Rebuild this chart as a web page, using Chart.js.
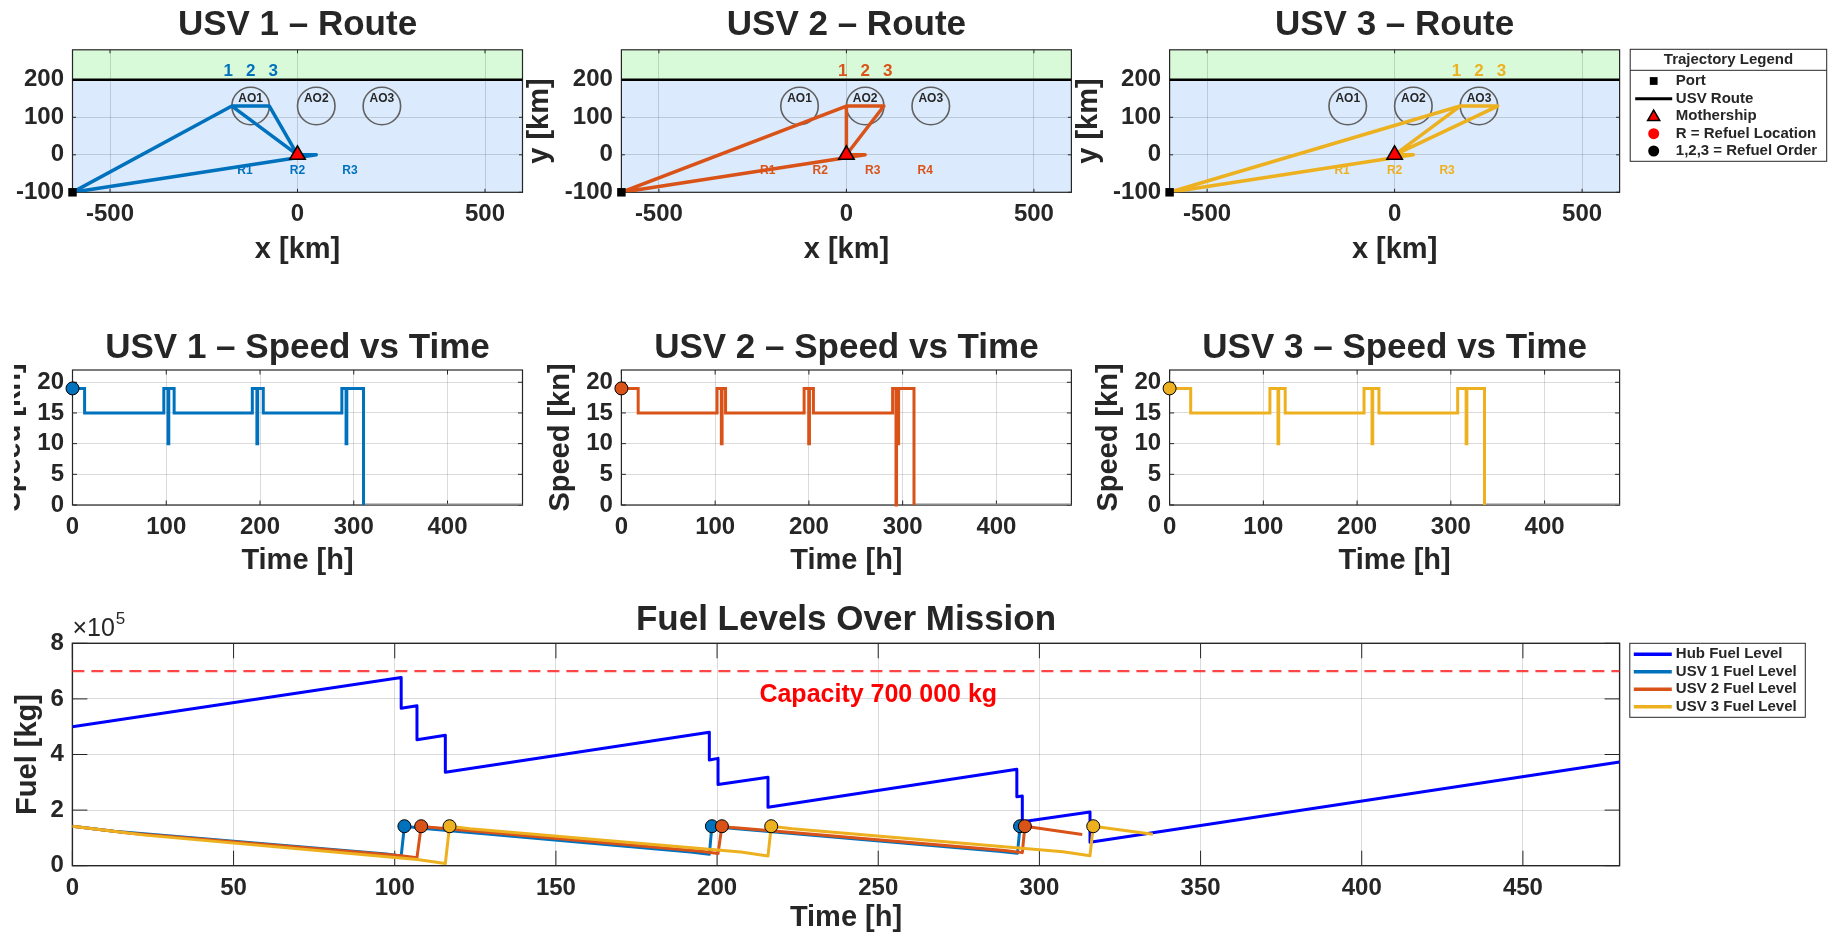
<!DOCTYPE html>
<html>
<head>
<meta charset="utf-8">
<title>USV mission overview</title>
<script src="https://cdn.jsdelivr.net/npm/chart.js@4.4.1/dist/chart.umd.min.js"></script>
<style>
  html, body { margin: 0; padding: 0; background: #fff; }
  body { width: 1837px; height: 942px; position: relative; overflow: hidden; }
  canvas { position: absolute; }
</style>
</head>
<body>
<canvas id="route1"></canvas>
<canvas id="route2"></canvas>
<canvas id="route3"></canvas>
<canvas id="speed1"></canvas>
<canvas id="speed2"></canvas>
<canvas id="speed3"></canvas>
<canvas id="fuel"></canvas>
<script>
// ---------- mission data ----------
const usvNames = ['USV 1', 'USV 2', 'USV 3'];
const usvColors = ['#0072BD', '#D95319', '#EDB120'];

// route plots (km)
const routeXRange = [-600, 600];
const routeYRange = [-100, 280];
const routeXTicks = [-500, 0, 500];
const routeYTicks = [-100, 0, 100, 200];
const shoreY = 200;
const port = [-600, -100];
const mothership = [0, 0];
const aoNames = ['AO1', 'AO2', 'AO3'];
const aoX = [-125, 50, 225];
const aoY = 130;
const aoRadius = 50;
const aoLabelY = 150;

const route1X = [-600, -175, -75, 0, -175, -75, 0, 50, -600];
const route1Y = [-100, 130, 130, 0, 130, 130, 0, 0, -100];
const route2X = [-600, 0, 100, 0, 0, 100, 0, 50, -600];
const route2Y = [-100, 130, 130, 0, 130, 130, 0, 0, -100];
const route3X = [-600, 175, 275, 0, 175, 275, 0, 50, -600];
const route3Y = [-100, 130, 130, 0, 130, 130, 0, 0, -100];

const refuelNames1 = ['R1', 'R2', 'R3'];
const refuelX1 = [-140, 0, 140];
const refuelNames2 = ['R1', 'R2', 'R3', 'R4'];
const refuelX2 = [-210, -70, 70, 210];
const refuelNames3 = ['R1', 'R2', 'R3'];
const refuelX3 = [-140, 0, 140];
const refuelLabelY = -42;

const orderNames = ['1', '2', '3'];
const orderX1 = [-185, -125, -65];
const orderX2 = [-10, 50, 110];
const orderX3 = [165, 225, 285];
const orderLabelY = 222;

const legendText = ['Port', 'USV Route', 'Mothership', 'R = Refuel Location', '1,2,3 = Refuel Order'];

// speed profiles: speed (kn) holds from each time (h) until the next one
const timeMax = 480;
const timeTicks = [0, 100, 200, 300, 400];
const speedTicks = [0, 5, 10, 15, 20];
const speedT1 = [0, 12.9, 97.4, 101.9, 102.7, 108.4, 191.8, 196.7, 197.5, 203.5, 287.3, 291.8, 292.6, 310.4];
const speedV1 = [19, 15, 19, 10, 19, 15, 19, 10, 19, 15, 19, 10, 19, 0];
const speedT2 = [0, 17.9, 102, 106.6, 107.4, 111.1, 194.9, 199.8, 200.6, 204.8, 289.3, 292.9, 293.5, 295.1, 295.7, 312.1];
const speedV2 = [19, 15, 19, 10, 19, 15, 19, 10, 19, 15, 19, 0, 19, 10, 19, 0];
const speedT3 = [0, 22.5, 107, 115.6, 116.4, 123.3, 207.4, 215.9, 216.7, 223.3, 307.3, 316.3, 317.1, 335.9];
const speedV3 = [19, 15, 19, 10, 19, 15, 19, 10, 19, 15, 19, 10, 19, 0];

// fuel levels (kg)
const fuelTimeTicks = [0, 50, 100, 150, 200, 250, 300, 350, 400, 450];
const fuelTicks = [0, 200000, 400000, 600000, 800000];
const capacityKg = 700000;
const capacityLabelAt = [250, 615000];
const hubT = [0, 102, 102, 106.9, 106.9, 115.7, 115.7, 197.6, 197.6, 200.3, 200.3, 215.8, 215.8, 293, 293, 294.7, 294.7, 315.7, 315.7, 480];
const hubFuel = [500000, 677000, 566000, 575000, 453000, 469000, 336000, 480000, 380000, 386000, 292000, 318000, 210000, 347000, 248000, 251000, 158000, 193000, 84000, 373000];
const fuelT1 = [0, 12.9, 97.4, 102, 103, 108.4, 191.8, 197.6, 198.4, 203.5, 287.3, 293.2, 294];
const fuelKg1 = [142000, 124000, 42000, 35000, 142000, 135000, 49000, 41000, 142000, 136000, 52000, 45000, 142000];
const fuelT2 = [0, 17.9, 102, 106.9, 108.2, 111.1, 194.9, 200.3, 201.5, 204.8, 289.3, 294.7, 295.5, 313.3];
const fuelKg2 = [142000, 117000, 36000, 29000, 142000, 138000, 52000, 44000, 142000, 137000, 55000, 47000, 142000, 112000];
const fuelT3 = [0, 22.5, 107, 115.7, 117, 123.3, 207.4, 215.8, 216.8, 223.3, 307.3, 315.7, 316.7, 335.2];
const fuelKg3 = [142000, 110000, 22000, 8000, 142000, 133000, 49000, 35000, 142000, 133000, 50000, 36000, 142000, 113000];
const refuelT1 = [103, 198.4, 294];
const refuelT2 = [108.2, 201.5, 295.5];
const refuelT3 = [117, 216.8, 316.7];

const routeX = [route1X, route2X, route3X];
const routeY = [route1Y, route2Y, route3Y];
const refuelNames = [refuelNames1, refuelNames2, refuelNames3];
const refuelX = [refuelX1, refuelX2, refuelX3];
const orderX = [orderX1, orderX2, orderX3];
const speedT = [speedT1, speedT2, speedT3];
const speedV = [speedV1, speedV2, speedV3];
const fuelT = [fuelT1, fuelT2, fuelT3];
const fuelKg = [fuelKg1, fuelKg2, fuelKg3];
const refuelT = [refuelT1, refuelT2, refuelT3];

// ---------- styling ----------
const INK = '#262626';
const GRID = 'rgba(0,0,0,0.14)';
const FONT = '"Liberation Sans", Arial, Helvetica, sans-serif';
const TITLE = 35, TICK = 24, LABEL = 29;
const landColor = 'rgb(217,250,217)';
const seaColor = 'rgb(219,234,252)';

Chart.defaults.font.family = FONT;
Chart.defaults.font.weight = 'bold';
Chart.defaults.color = INK;

// axes box with inward tick marks, drawn under the data
Chart.register({
  id: 'frame',
  defaults: { tick: 4, width: 1.2 },
  beforeDatasetsDraw(chart, args, opts) {
    const { ctx, chartArea: a, scales: { x, y } } = chart;
    const L = opts.tick;
    ctx.save();
    ctx.strokeStyle = INK;
    ctx.lineWidth = 1;
    ctx.beginPath();
    x.ticks.forEach(t => {
      const px = x.getPixelForValue(t.value);
      ctx.moveTo(px, a.bottom); ctx.lineTo(px, a.bottom - L);
      ctx.moveTo(px, a.top); ctx.lineTo(px, a.top + L);
    });
    y.ticks.forEach(t => {
      const py = y.getPixelForValue(t.value);
      ctx.moveTo(a.left, py); ctx.lineTo(a.left + L, py);
      ctx.moveTo(a.right, py); ctx.lineTo(a.right - L, py);
    });
    ctx.stroke();
    ctx.lineWidth = opts.width;
    ctx.strokeRect(a.left, a.top, a.right - a.left, a.bottom - a.top);
    ctx.restore();
  }
});

// place a canvas and work out paddings so the plot area lands on `area`
function panel(id, box, area, titleY, xLabelY, yLabelX) {
  const canvas = document.getElementById(id);
  canvas.width = box.w; canvas.height = box.h;
  canvas.style.left = box.l + 'px'; canvas.style.top = box.t + 'px';
  canvas.style.width = box.w + 'px'; canvas.style.height = box.h + 'px';
  const tlh = TITLE * 1.2, llh = LABEL * 1.2;
  const xH = xLabelY - area.B + llh / 2;
  return {
    canvas,
    layout: { padding: { left: 0, top: 0, right: box.l + box.w - area.R, bottom: box.t + box.h - area.B - xH } },
    titlePad: { top: titleY - box.t - tlh / 2, bottom: area.T - titleY - tlh / 2 },
    xH,
    yW: area.L - box.l,
    yTitlePad: yLabelX - box.l - llh / 2
  };
}

function axis(p, horiz, range, values, label, fmt) {
  return {
    type: 'linear', min: range[0], max: range[1],
    afterBuildTicks: s => { s.ticks = values.map(v => ({ value: v })); },
    afterFit: s => { if (horiz) s.height = p.xH; else s.width = p.yW; },
    grid: { color: GRID, lineWidth: 1, drawTicks: false },
    border: { display: false },
    ticks: { padding: horiz ? 8 : 8.5, font: { size: TICK, weight: 'bold' }, color: INK,
             maxRotation: 0, autoSkip: false, callback: fmt || (v => String(v)) },
    title: { display: true, text: label, color: INK, font: { size: LABEL, weight: 'bold' },
             padding: horiz ? 0 : { top: p.yTitlePad, bottom: 0 } }
  };
}

function base(p, title, scales, frame) {
  return {
    responsive: false, animation: false, events: [],
    layout: p.layout,
    scales,
    plugins: {
      legend: { display: false },
      tooltip: { enabled: false },
      title: { display: true, text: title, fullSize: false, color: INK,
               font: { size: TITLE, weight: 'bold' }, padding: p.titlePad },
      frame
    }
  };
}

const pts = (xs, ys) => xs.map((x, i) => ({ x, y: ys[i] }));
const colL = [72.5, 621.4, 1169.6];
const plotW = 450;
const canvasL = [14, 524, 1072];
const routeCanvasW = [530, 570, 765];
const speedCanvasW = [530, 570, 600];

function symbol(ctx, style, x, y, r, fill, stroke, bw) {
  ctx.fillStyle = fill;
  ctx.strokeStyle = stroke;
  ctx.lineWidth = bw;
  Chart.helpers.drawPoint(ctx, { pointStyle: style, radius: r, rotation: 0, borderWidth: bw }, x, y);
}

// ---------- route maps ----------
function routeChart(k) {
  const area = { L: colL[k], R: colL[k] + plotW, T: 49.8, B: 192.3 };
  const p = panel('route' + (k + 1), { l: canvasL[k], t: 0, w: routeCanvasW[k], h: 270 }, area, 25, 250, area.L - 81);

  const marks = {
    id: 'routeMarks',
    beforeDraw(chart) {
      const { ctx, chartArea: a, scales: { y } } = chart;
      const ys = y.getPixelForValue(shoreY);
      ctx.save();
      ctx.fillStyle = landColor;
      ctx.fillRect(a.left, a.top, a.right - a.left, ys - a.top);
      ctx.fillStyle = seaColor;
      ctx.fillRect(a.left, ys, a.right - a.left, a.bottom - ys);
      ctx.restore();
    },
    beforeDatasetsDraw(chart) {
      const { ctx, scales: { x, y } } = chart;
      ctx.save();
      ctx.textAlign = 'center';
      ctx.textBaseline = 'middle';
      aoX.forEach((cx, i) => {
        const px = x.getPixelForValue(cx), py = y.getPixelForValue(aoY);
        const r = x.getPixelForValue(cx + aoRadius) - px;
        ctx.beginPath();
        ctx.arc(px, py, r, 0, Math.PI * 2);
        ctx.strokeStyle = '#606060';
        ctx.lineWidth = 1.6;
        ctx.stroke();
        ctx.fillStyle = INK;
        ctx.font = 'bold 12px ' + FONT;
        ctx.fillText(aoNames[i], px, y.getPixelForValue(aoLabelY));
      });
      ctx.fillStyle = usvColors[k];
      ctx.font = 'bold 12px ' + FONT;
      refuelX[k].forEach((rx, i) => ctx.fillText(refuelNames[k][i], x.getPixelForValue(rx), y.getPixelForValue(refuelLabelY)));
      ctx.font = 'bold 17px ' + FONT;
      orderX[k].forEach((ox, i) => ctx.fillText(orderNames[i], x.getPixelForValue(ox), y.getPixelForValue(orderLabelY)));
      ctx.restore();
    },
    afterDraw(chart) {
      if (k !== 2) return;
      const { ctx, chartArea: a } = chart;
      const lx = a.right + 10.6, ly = 49.3, lw = 196.5, lh = 112;
      ctx.save();
      ctx.fillStyle = '#fff';
      ctx.fillRect(lx, ly, lw, lh);
      ctx.strokeStyle = INK;
      ctx.lineWidth = 1;
      ctx.strokeRect(lx, ly, lw, lh);
      ctx.beginPath();
      ctx.moveTo(lx, ly + 21); ctx.lineTo(lx + lw, ly + 21);
      ctx.stroke();
      ctx.fillStyle = INK;
      ctx.font = 'bold 15px ' + FONT;
      ctx.textAlign = 'center';
      ctx.textBaseline = 'middle';
      ctx.fillText('Trajectory Legend', lx + lw / 2, ly + 11);
      const rows = [31.7, 49.4, 66.7, 84.4, 101.7];
      const sx = lx + 23.5;
      symbol(ctx, 'rect', sx, ly + rows[0], 5.5, '#000', '#000', 0);
      ctx.strokeStyle = '#000';
      ctx.lineWidth = 3;
      ctx.beginPath();
      ctx.moveTo(lx + 5, ly + rows[1]); ctx.lineTo(lx + 42, ly + rows[1]);
      ctx.stroke();
      symbol(ctx, 'triangle', sx, ly + rows[2] + 1, 7, '#ff0000', '#000', 1.5);
      symbol(ctx, 'circle', sx, ly + rows[3], 5.5, '#ff0000', '#ff0000', 0);
      symbol(ctx, 'circle', sx, ly + rows[4], 5.5, '#000', '#000', 0);
      ctx.fillStyle = INK;
      ctx.textAlign = 'left';
      legendText.forEach((t, i) => ctx.fillText(t, lx + 45.6, ly + rows[i]));
      ctx.restore();
    }
  };

  new Chart(p.canvas, {
    type: 'scatter',
    data: {
      datasets: [
        { data: [{ x: routeXRange[0], y: shoreY }, { x: routeXRange[1], y: shoreY }], showLine: true,
          borderColor: '#000', borderWidth: 2.5, pointRadius: 0, order: 3 },
        { data: pts(routeX[k], routeY[k]), showLine: true, borderColor: usvColors[k], borderWidth: 3.5,
          borderJoinStyle: 'round', pointRadius: 0, order: 2 },
        { data: [{ x: port[0], y: port[1] }], pointStyle: 'rect', pointRadius: 6,
          pointBackgroundColor: '#000', pointBorderColor: '#000', pointBorderWidth: 0, clip: false, order: 1 },
        { data: [{ x: mothership[0], y: mothership[1] }], pointStyle: 'triangle', pointRadius: 9,
          pointBackgroundColor: '#ff0000', pointBorderColor: '#000', pointBorderWidth: 1.5, order: 0 }
      ]
    },
    options: base(p, usvNames[k] + ' \u2013 Route', {
      x: axis(p, true, routeXRange, routeXTicks, 'x [km]'),
      y: axis(p, false, routeYRange, routeYTicks, 'y [km]')
    }, { tick: 3.5, width: 1.2 }),
    plugins: [marks]
  });
}

// ---------- speed profiles ----------
function speedChart(k) {
  const area = { L: colL[k], R: colL[k] + plotW, T: 370, B: 505 };
  const p = panel('speed' + (k + 1), { l: canvasL[k], t: 300, w: speedCanvasW[k], h: 280 }, area, 348.5, 560.5, area.L - 60.7);
  const t = speedT[k];
  new Chart(p.canvas, {
    type: 'scatter',
    data: {
      datasets: [
        { data: pts(t, speedV[k]), showLine: true, stepped: true, borderColor: usvColors[k], borderWidth: 3,
          pointRadius: c => c.dataIndex === 0 ? 6.5 : 0, pointBackgroundColor: usvColors[k],
          pointBorderColor: '#000', pointBorderWidth: 1, clip: false, order: 0 },
        { data: [{ x: t[t.length - 1], y: 0 }, { x: timeMax, y: 0 }], showLine: true,
          borderColor: '#8a8a8a', borderWidth: 3, pointRadius: 0, order: 1 }
      ]
    },
    options: base(p, usvNames[k] + ' \u2013 Speed vs Time', {
      x: axis(p, true, [0, timeMax], timeTicks, 'Time [h]'),
      y: axis(p, false, [0, 22], speedTicks, 'Speed [kn]')
    }, { tick: 4.5, width: 1.2 })
  });
}

// ---------- fuel levels ----------
function fuelChart() {
  const area = { L: 72.4, R: 1619.6, T: 643.3, B: 865.7 };
  const p = panel('fuel', { l: 0, t: 580, w: 1837, h: 362 }, area, 620, 918, 28);

  const extras = {
    id: 'fuelExtras',
    afterDraw(chart) {
      const { ctx, chartArea: a, scales: { x, y } } = chart;
      ctx.save();
      // axis exponent
      ctx.fillStyle = INK;
      ctx.textAlign = 'left';
      ctx.textBaseline = 'middle';
      ctx.font = '25px ' + FONT;
      ctx.fillText('\u00d710', a.left, a.top - 14);
      const w = ctx.measureText('\u00d710').width;
      ctx.font = '17px ' + FONT;
      ctx.fillText('5', a.left + w + 1, a.top - 24);
      // capacity note
      ctx.fillStyle = '#ff0000';
      ctx.textAlign = 'center';
      ctx.font = 'bold 25px ' + FONT;
      const cap = String(capacityKg).replace(/\B(?=(\d{3})+(?!\d))/g, ' ');
      ctx.fillText('Capacity ' + cap + ' kg', x.getPixelForValue(capacityLabelAt[0]), y.getPixelForValue(capacityLabelAt[1]));
      // legend
      const items = chart.data.datasets.filter(d => d.label);
      items.sort((m, n) => n.order - m.order);
      const lx = a.right + 10.2, ly = a.top, lw = 175.5, lh = 74;
      ctx.fillStyle = '#fff';
      ctx.fillRect(lx, ly, lw, lh);
      ctx.strokeStyle = INK;
      ctx.lineWidth = 1;
      ctx.strokeRect(lx, ly, lw, lh);
      ctx.font = 'bold 15px ' + FONT;
      ctx.textAlign = 'left';
      items.forEach((d, i) => {
        const ry = ly + 11 + i * 17.5;
        ctx.strokeStyle = d.borderColor;
        ctx.lineWidth = 3.5;
        ctx.beginPath();
        ctx.moveTo(lx + 4, ry); ctx.lineTo(lx + 42, ry);
        ctx.stroke();
        ctx.fillStyle = INK;
        ctx.fillText(d.label, lx + 46, ry);
      });
      ctx.restore();
    }
  };

  const usvSets = [0, 1, 2].map(k => ({
    label: usvNames[k] + ' Fuel Level',
    data: pts(fuelT[k], fuelKg[k]), showLine: true, borderColor: usvColors[k], borderWidth: 3,
    borderJoinStyle: 'round',
    pointRadius: c => refuelT[k].includes(c.raw.x) ? 6.5 : 0,
    pointBackgroundColor: usvColors[k], pointBorderColor: '#000', pointBorderWidth: 1,
    order: 3 - k
  }));

  new Chart(p.canvas, {
    type: 'scatter',
    data: {
      datasets: [
        { data: [{ x: 0, y: capacityKg }, { x: timeMax, y: capacityKg }], showLine: true,
          borderColor: '#ff4545', borderWidth: 2.2, borderDash: [12, 7], pointRadius: 0, order: 5 },
        { label: 'Hub Fuel Level', data: pts(hubT, hubFuel), showLine: true, borderColor: '#0000ff',
          borderWidth: 3, borderJoinStyle: 'round', pointRadius: 0, order: 4 },
        ...usvSets
      ]
    },
    options: base(p, 'Fuel Levels Over Mission', {
      x: axis(p, true, [0, timeMax], fuelTimeTicks, 'Time [h]'),
      y: axis(p, false, [0, 800000], fuelTicks, 'Fuel [kg]', v => String(v / 100000))
    }, { tick: 15, width: 1.4 }),
    plugins: [extras]
  });
}

[0, 1, 2].forEach(routeChart);
[0, 1, 2].forEach(speedChart);
fuelChart();
</script>
</body>
</html>
